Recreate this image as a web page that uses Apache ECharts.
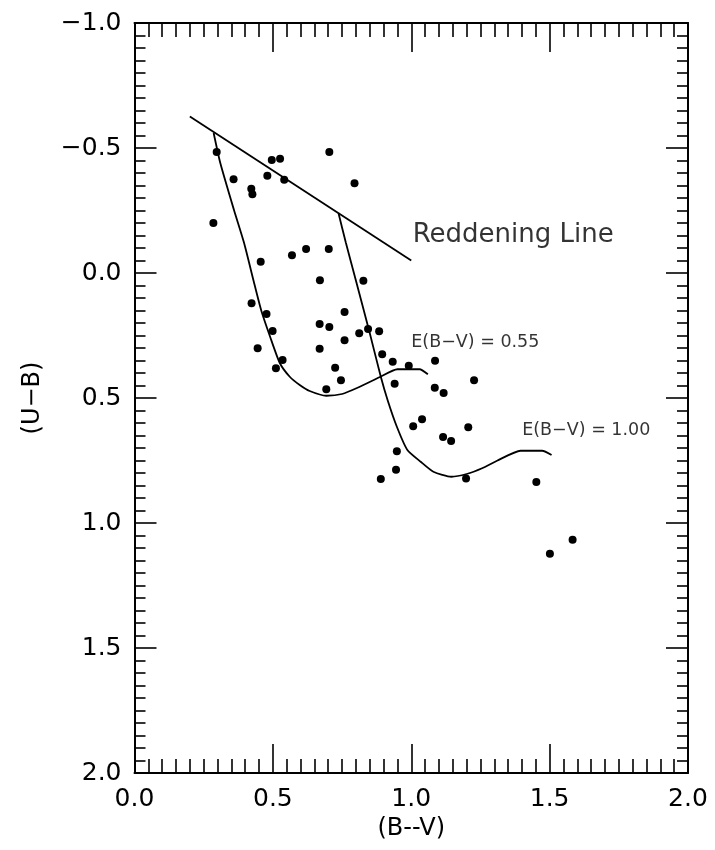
<!DOCTYPE html>
<html>
<head>
<meta charset="utf-8">
<script src="https://cdn.jsdelivr.net/npm/echarts@6/dist/echarts.min.js"></script>
<style>
html,body{margin:0;padding:0;background:#fff;}
#chart{width:715px;height:850px;}
</style>
</head>
<body>
<div id="chart"></div>
<script>
// ---- data ----
const xTickLabels = ['0.0', '0.5', '1.0', '1.5', '2.0'];
const yTickLabels = ['\u22121.0', '\u22120.5', '0.0', '0.5', '1.0', '1.5', '2.0'];

const starBV = [0.297, 0.496, 0.526, 0.704, 0.358, 0.480, 0.541, 0.795, 0.422, 0.426,
                0.285, 0.456, 0.569, 0.620, 0.702, 0.670, 0.827, 0.423, 0.477, 0.759,
                0.669, 0.704, 0.499, 0.812, 0.844, 0.884, 0.759, 0.445, 0.669, 0.535,
                0.511, 0.725, 0.895, 0.933, 0.991, 0.746, 0.940, 0.693, 1.007, 0.948,
                0.945, 0.890, 1.086, 1.227, 1.085, 1.117, 1.039, 1.206, 1.115, 1.144,
                1.198, 1.452, 1.501, 1.583];
const starUB = [-0.484, -0.452, -0.457, -0.484, -0.375, -0.389, -0.373, -0.359, -0.337, -0.315,
                -0.200, -0.045, -0.071, -0.096, -0.096, 0.029, 0.031, 0.121, 0.164, 0.156,
                0.204, 0.216, 0.232, 0.241, 0.224, 0.233, 0.269, 0.301, 0.303, 0.348,
                0.381, 0.379, 0.325, 0.355, 0.371, 0.429, 0.443, 0.465, 0.613, 0.713,
                0.787, 0.824, 0.351, 0.429, 0.459, 0.480, 0.585, 0.617, 0.656, 0.672,
                0.822, 0.836, 1.123, 1.067];

const reddeningBV = [0.20, 1.00];
const reddeningUB = [-0.626, -0.050];

const curve055BV = [0.286, 0.310, 0.360, 0.396, 0.430, 0.458, 0.490, 0.525, 0.561, 0.597, 0.633, 0.693, 0.750, 0.810, 0.885, 0.950, 1.030, 1.060];
const curve055UB = [-0.560, -0.440, -0.250, -0.120, 0.030, 0.150, 0.255, 0.360, 0.415, 0.448, 0.472, 0.491, 0.484, 0.457, 0.417, 0.385, 0.385, 0.405];

const curve100BV = [0.737, 0.764, 0.800, 0.850, 0.890, 0.915, 0.948, 0.986, 1.034, 1.080, 1.145, 1.200, 1.256, 1.310, 1.395, 1.473, 1.507];
const curve100UB = [-0.240, -0.120, 0.030, 0.240, 0.415, 0.510, 0.615, 0.708, 0.755, 0.795, 0.815, 0.804, 0.781, 0.751, 0.711, 0.711, 0.728];

const annotText = ['Reddening Line', 'E(B\u2212V) = 0.55', 'E(B\u2212V) = 1.00'];
const annotBV = [1.005, 1.000, 1.401];
const annotUB = [-0.152, 0.276, 0.631];

// ---- build ----
const zip = (a, b) => a.map((v, i) => [v, b[i]]);
const FONT = 'DejaVu Sans';
const INK = '#000';

function makeX(pos, showLabel) {
  return {
    type: 'value', position: pos, min: 0, max: 2, interval: 0.5,
    name: showLabel ? '(B--V)' : '',
    nameLocation: 'middle', nameGap: 43,
    nameTextStyle: { fontFamily: FONT, fontSize: 24, color: INK },
    axisLine: { show: true, onZero: false, lineStyle: { color: '#000', width: 2 } },
    axisTick: { show: true, inside: true, length: 29, lineStyle: { color: '#000', width: 1.6 } },
    minorTick: { show: true, splitNumber: 10, length: 14, lineStyle: { color: '#000', width: 1.6 } },
    axisLabel: {
      show: showLabel, margin: 14, fontFamily: FONT, fontSize: 25, color: INK,
      formatter: v => xTickLabels[Math.round(v / 0.5)]
    },
    splitLine: { show: false }, minorSplitLine: { show: false }
  };
}
function makeY(pos, showLabel) {
  return {
    type: 'value', position: pos, inverse: true, min: -1, max: 2, interval: 0.5,
    name: showLabel ? '(U\u2212B)' : '',
    nameLocation: 'middle', nameGap: 90, nameRotate: 90,
    nameTextStyle: { fontFamily: FONT, fontSize: 24, color: INK },
    axisLine: { show: true, onZero: false, lineStyle: { color: '#000', width: 2 } },
    axisTick: { show: true, inside: true, length: 22, lineStyle: { color: '#000', width: 1.6 } },
    minorTick: { show: true, splitNumber: 10, length: 11, lineStyle: { color: '#000', width: 1.6 } },
    axisLabel: {
      show: showLabel, margin: 13, fontFamily: FONT, fontSize: 25, color: INK,
      formatter: v => yTickLabels[Math.round((v + 1) / 0.5)]
    },
    splitLine: { show: false }, minorSplitLine: { show: false }
  };
}

const lineStyle = { color: '#000', width: 1.8 };

const option = {
  backgroundColor: '#fff',
  animation: false,
  grid: { left: 134.5, right: 27, top: 23, bottom: 77, outerBoundsMode: 'none', containLabel: false },
  xAxis: [makeX('bottom', true), makeX('top', false)],
  yAxis: [makeY('left', true), makeY('right', false)],
  series: [
    { type: 'line', xAxisIndex: 0, yAxisIndex: 0, data: zip(reddeningBV, reddeningUB),
      showSymbol: false, symbol: 'none', lineStyle: lineStyle },
    { type: 'line', xAxisIndex: 0, yAxisIndex: 0, data: zip(curve055BV, curve055UB),
      showSymbol: false, symbol: 'none', smooth: 0.2, lineStyle: lineStyle },
    { type: 'line', xAxisIndex: 0, yAxisIndex: 0, data: zip(curve100BV, curve100UB),
      showSymbol: false, symbol: 'none', smooth: 0.2, lineStyle: lineStyle },
    { type: 'scatter', xAxisIndex: 0, yAxisIndex: 0, data: zip(starBV, starUB),
      symbol: 'circle', symbolSize: 8, itemStyle: { color: '#000', opacity: 1 } },
    { type: 'scatter', xAxisIndex: 0, yAxisIndex: 0,
      data: annotBV.map((v, i) => ({
        value: [v, annotUB[i]],
        label: { fontSize: i === 0 ? 26 : 17.5 }
      })),
      symbolSize: 0, silent: true,
      label: {
        show: true, position: 'right', distance: 0, fontFamily: FONT, color: INK,
        formatter: p => annotText[p.dataIndex]
      } }
  ]
};

const chart = echarts.init(document.getElementById('chart'), null, { renderer: 'canvas' });
chart.setOption(option);
</script>
</body>
</html>
